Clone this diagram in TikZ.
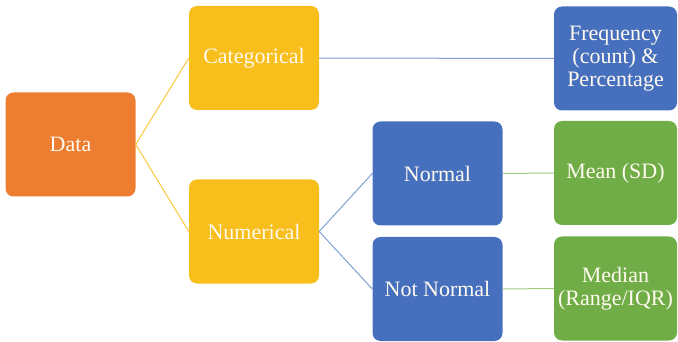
\documentclass[tikz,border=0pt]{standalone}
\usepackage{fontspec}
\setmainfont{Liberation Serif}
\definecolor{cOrange}{RGB}{237,125,49}
\definecolor{cYellow}{RGB}{248,190,28}
\definecolor{cBlue}{RGB}{70,112,190}
\definecolor{cGreen}{RGB}{112,173,71}
\definecolor{lYellow}{RGB}{250,200,60}
\definecolor{lBlue}{RGB}{130,160,215}
\definecolor{lGreen}{RGB}{160,205,130}
\definecolor{cText}{RGB}{255,250,240}
\begin{document}
\begin{tikzpicture}[x=1pt,y=-1pt,
  box/.style={rounded corners=8pt, minimum width=130pt, minimum height=104pt,
    text=cText, font=\fontsize{22}{23}\selectfont, align=center, inner sep=0pt},
  narrowbox/.style={box, minimum width=123pt},
  link/.style={line width=1pt}]
\useasboundingbox (0,0) rectangle (678,342);
% nodes
\node[box, fill=cOrange] (data) at (70.5,144.5) {Data};
\node[box, fill=cYellow] (cat) at (254,58) {Categorical};
\node[box, fill=cYellow] (num) at (254,231.5) {Numerical};
\node[box, fill=cBlue] (norm) at (437.5,173.5) {Normal};
\node[box, fill=cBlue] (notnorm) at (437.5,289) {Not Normal};
\node[narrowbox, fill=cBlue] (freq) at (615.5,58.5) {Frequency\\(count) \&\\Percentage};
\node[narrowbox, fill=cGreen] (mean) at (615.5,173) {Mean (SD)};
\node[narrowbox, fill=cGreen] (median) at (615.5,288.5) {Median\\(Range/IQR)};
% connectors
\draw[link, lYellow] (data.east) -- (cat.west);
\draw[link, lYellow] (data.east) -- (num.west);
\draw[link, lBlue] (cat.east) -- (freq.west);
\draw[link, lBlue] (num.east) -- (norm.west);
\draw[link, lBlue] (num.east) -- (notnorm.west);
\draw[link, lGreen] (norm.east) -- (mean.west);
\draw[link, lGreen] (notnorm.east) -- (median.west);
\end{tikzpicture}
\end{document}
